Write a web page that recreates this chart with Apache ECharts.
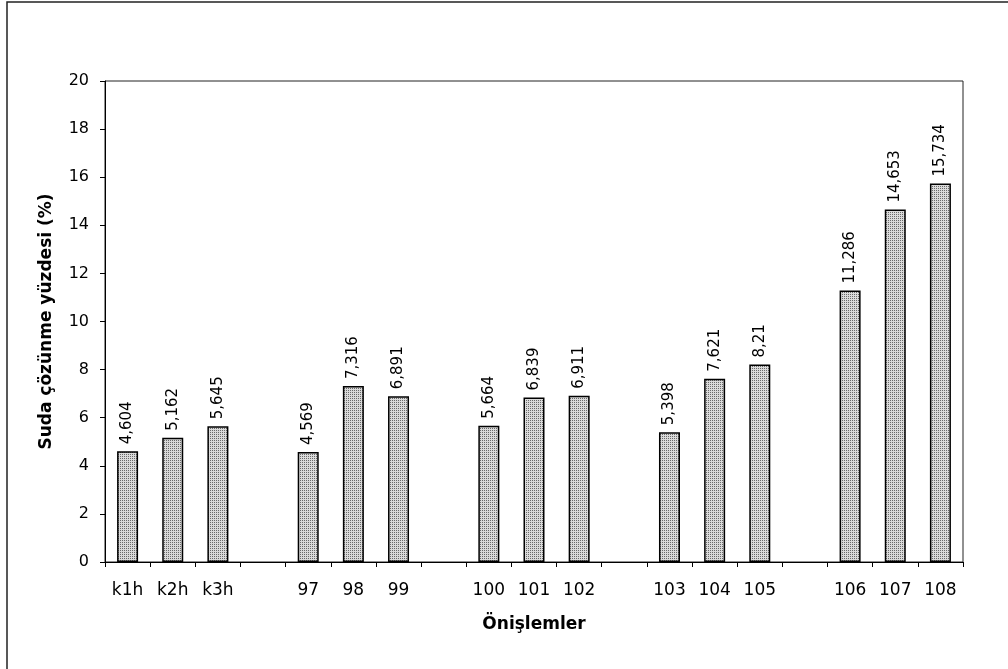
<!DOCTYPE html>
<html>
<head>
<meta charset="utf-8">
<script src="https://cdn.jsdelivr.net/npm/echarts@6/dist/echarts.min.js"></script>
<style>
  html, body { margin: 0; padding: 0; background: #fff; }
  #chart { width: 1008px; height: 669px; }
</style>
</head>
<body>
<div id="chart"></div>
<script>
// Treatment groups; blank slots separate the groups on the axis
const categories = ['k1h', 'k2h', 'k3h', ' ', '97', '98', '99', '  ', '100', '101', '102', '   ', '103', '104', '105', '    ', '106', '107', '108'];
// Water solubility (%) per treatment
const solubility = [4.604, 5.162, 5.645, null, 4.569, 7.316, 6.891, null, 5.664, 6.839, 6.911, null, 5.398, 7.621, 8.21, null, 11.286, 14.653, 15.734];
const yTicks = { min: 0, max: 20, interval: 2 };

// Fine dotted fill for the bars
function dotPattern() {
  const c = document.createElement('canvas');
  c.width = 2; c.height = 2;
  const ctx = c.getContext('2d');
  ctx.fillStyle = '#dadada';
  ctx.fillRect(0, 0, 2, 2);
  ctx.fillStyle = '#6a6a6a';
  ctx.fillRect(0, 0, 1, 1);
  return c;
}

const font = 'DejaVu Sans';
const chart = echarts.init(document.getElementById('chart'), null, { renderer: 'canvas' });

chart.setOption({
  animation: false,
  backgroundColor: '#fff',
  graphic: [{
    type: 'polyline',
    shape: { points: [[7, 700], [7, 2], [1020, 2]] },
    style: { stroke: '#222', lineWidth: 1.5, fill: null },
    silent: true
  }],
  grid: {
    left: 105, right: 45, top: 81, bottom: 107,
    show: true, borderColor: '#222', borderWidth: 1, backgroundColor: 'transparent'
  },
  xAxis: {
    type: 'category',
    data: categories,
    boundaryGap: true,
    name: 'Önişlemler',
    nameLocation: 'middle',
    nameGap: 54,
    nameTextStyle: { fontFamily: font, fontWeight: 'bold', fontSize: 17, color: '#000' },
    axisLine: { lineStyle: { color: '#000', width: 1 } },
    axisTick: { show: true, length: 5, alignWithLabel: false, interval: 0, lineStyle: { color: '#000' } },
    axisLabel: { interval: 0, margin: 20, fontFamily: font, fontSize: 17, color: '#000' },
    splitLine: { show: false }
  },
  yAxis: {
    type: 'value',
    min: yTicks.min, max: yTicks.max, interval: yTicks.interval,
    name: 'Suda çözünme yüzdesi (%)',
    nameLocation: 'middle',
    nameGap: 50,
    nameRotate: 90,
    nameTextStyle: { fontFamily: font, fontWeight: 'bold', fontSize: 17, color: '#000' },
    axisLine: { show: true, lineStyle: { color: '#000', width: 1 } },
    axisTick: { show: true, length: 5, inside: false, lineStyle: { color: '#000' } },
    axisLabel: { margin: 16, fontFamily: font, fontSize: 16, color: '#000' },
    splitLine: { show: false }
  },
  series: [{
    type: 'bar',
    data: solubility,
    barWidth: 21,
    itemStyle: {
      color: { image: dotPattern(), repeat: 'repeat' },
      borderColor: '#000',
      borderWidth: 1.5
    },
    label: {
      show: true,
      position: 'top',
      rotate: 90,
      align: 'left',
      verticalAlign: 'middle',
      distance: 7,
      fontFamily: font,
      fontSize: 15,
      color: '#000',
      formatter: p => String(p.value).replace('.', ',')
    }
  }]
});
</script>
</body>
</html>
